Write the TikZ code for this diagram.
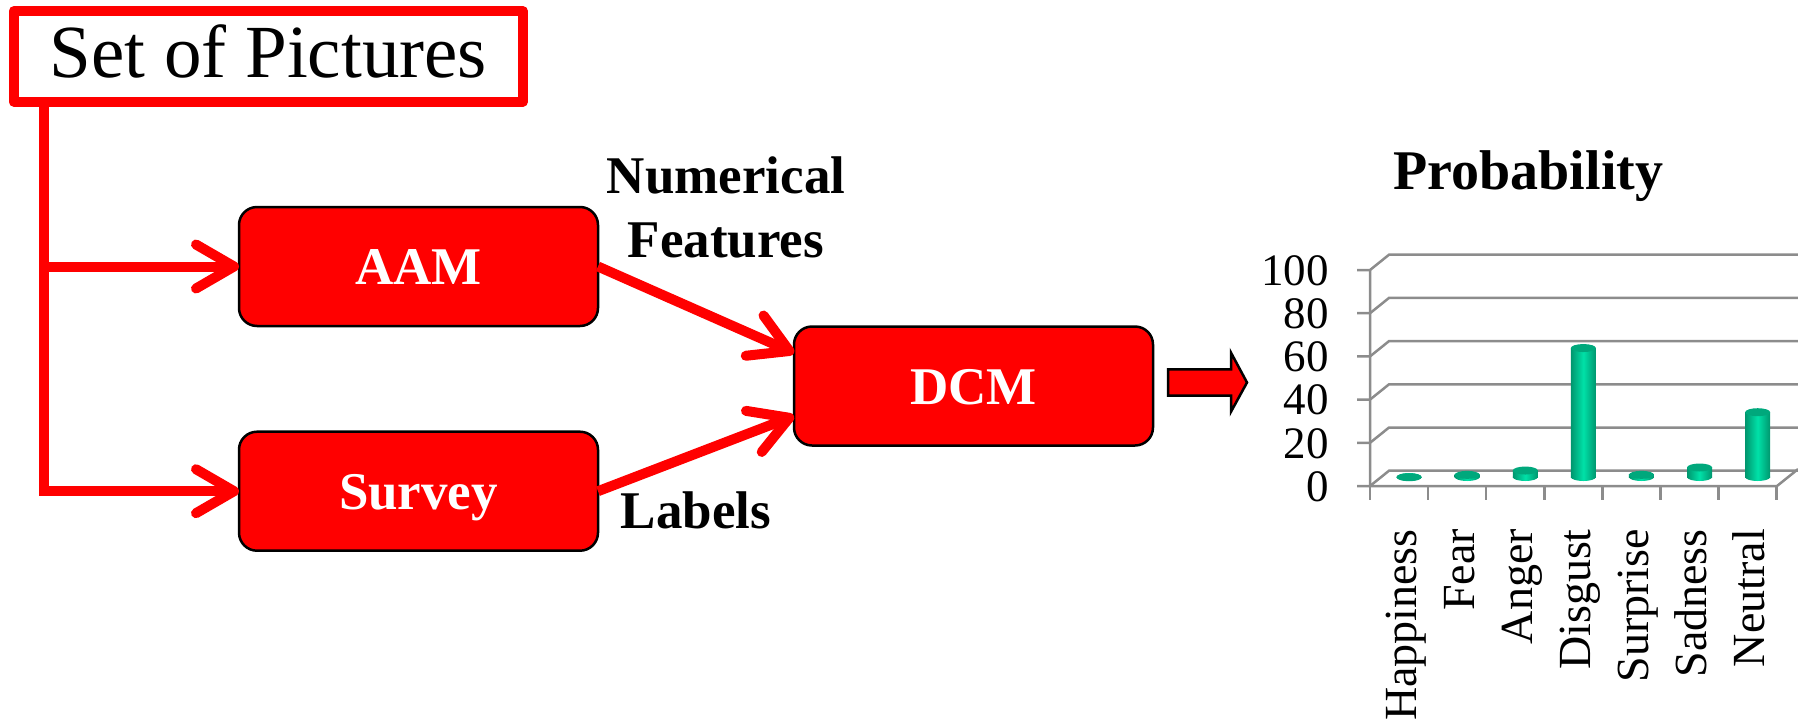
\documentclass[tikz,border=0pt]{standalone}
\usepackage{fontspec}
\setmainfont{Liberation Serif}
\usetikzlibrary{arrows.meta}
\definecolor{bardark}{RGB}{0,150,110}
\definecolor{barlight}{RGB}{0,225,168}
\definecolor{bartop}{RGB}{0,168,124}
\definecolor{gridgray}{RGB}{140,140,140}
\begin{document}
\begin{tikzpicture}[x=1pt,y=-1pt,
  framebox/.style={rectangle, draw=red, line width=10pt, line join=round,
    minimum width=509.4pt, minimum height=90.2pt, inner sep=0pt, outer sep=0pt,
    font=\fontsize{75}{80}\selectfont, text height=50pt, text depth=7pt},
  box/.style={rectangle, rounded corners=18pt, fill=red, draw=black, line width=2.5pt,
    minimum width=359pt, minimum height=119pt, inner sep=0pt, outer sep=0pt,
    text=white, font=\bfseries\fontsize{53}{60}\selectfont, text height=36pt, text depth=0pt},
  redline/.style={draw=red, line width=10pt, line cap=butt, line join=miter},
  openarrow/.style={-{Straight Barb[length=38pt,width=44pt,round]}},
  lab/.style={inner sep=0pt, font=\bfseries\fontsize{53}{64}\selectfont},
  gridline/.style={draw=gridgray, line width=2.5pt},
  ylab/.style={anchor=east, inner sep=0pt, font=\fontsize{45}{50}\selectfont, text height=30.4pt, text depth=0pt},
  catlab/.style={rotate=90, anchor=base east, inner sep=0pt, font=\fontsize{46}{50}\selectfont},
  bararrow/.style={fill=red, draw=black, line width=2.5pt, line join=miter}
]
\useasboundingbox (0,0) rectangle (1798,726);

% left flow
\node[framebox] (pics) at (268.3,56.4) {Set of Pictures};
\node[box] (aam) at (418.5,266.5) {AAM};
\node[box] (survey) at (418.5,491.2) {Survey};
\node[box] (dcm) at (973.5,386) {DCM};

\coordinate (trunktop) at (43.5,101.5);
\coordinate (trunkmid) at (43.5,266.5);
\draw[redline, openarrow] (trunktop) |- (survey.west);
\draw[redline, openarrow] (trunkmid) -- (aam.west);
\draw[redline, openarrow] (aam.east) -- ([yshift=33pt]dcm.west);
\draw[redline, openarrow] (survey.east) -- ([yshift=-30pt]dcm.west);

\node[lab, anchor=north, align=center] (numfeat) at (726,157) {Numerical\\Features};
\node[lab, anchor=base] (labels) at (696,528) {Labels};

% block arrow
\draw[bararrow] (1168,369.3) -- (1231,369.3) -- (1231,352.7) -- (1247,382.5)
  -- (1231,411.7) -- (1231,395.7) -- (1168,395.7) -- cycle;

% chart
\node[lab, anchor=base, font=\bfseries\fontsize{56}{60}\selectfont] (prob) at (1528.4,189.3) {Probability};

\foreach \val in {0,20,...,100} {
  \pgfmathsetmacro\yf{486-2.16*\val}
  \pgfmathsetmacro\yb{\yf-15.3}
  \draw[gridline] (1357,\yf) -- (1370,\yf) -- (1389,\yb) -- (1798,\yb);
  \node[ylab] (ylab\val) at (1329,\yf) {\val};
}
\draw[gridline] (1370,270) -- (1370,486) -- (1777,486) -- (1798,469.1);
\foreach \k in {0,...,7} {
  \draw[gridline] (1370+58.1*\k,486) -- (1370+58.1*\k,500);
}

\foreach \k/\val/\nm in {0/0.5/Happiness, 1/1.6/Fear, 2/3.6/Anger, 3/60.3/Disgust, 4/1.6/Surprise, 5/5/Sadness, 6/30.6/Neutral} {
  \pgfmathsetmacro\cx{1399.05+58.1*\k}
  \pgfmathsetmacro\bx{\cx+10}
  \pgfmathsetmacro\ty{478.3-2.16*\val}
  \shade[left color=bardark, right color=bardark, middle color=barlight] (\bx,477) ellipse (12.5 and 4);
  \shade[left color=bardark, right color=bardark, middle color=barlight] (\bx-12.5,477) rectangle (\bx+12.5,\ty);
  \fill[bartop] (\bx,\ty) ellipse (12.5 and 4);
  \node[catlab] (cat\k) at (\cx+17,529) {\nm};
}
\end{tikzpicture}
\end{document}
